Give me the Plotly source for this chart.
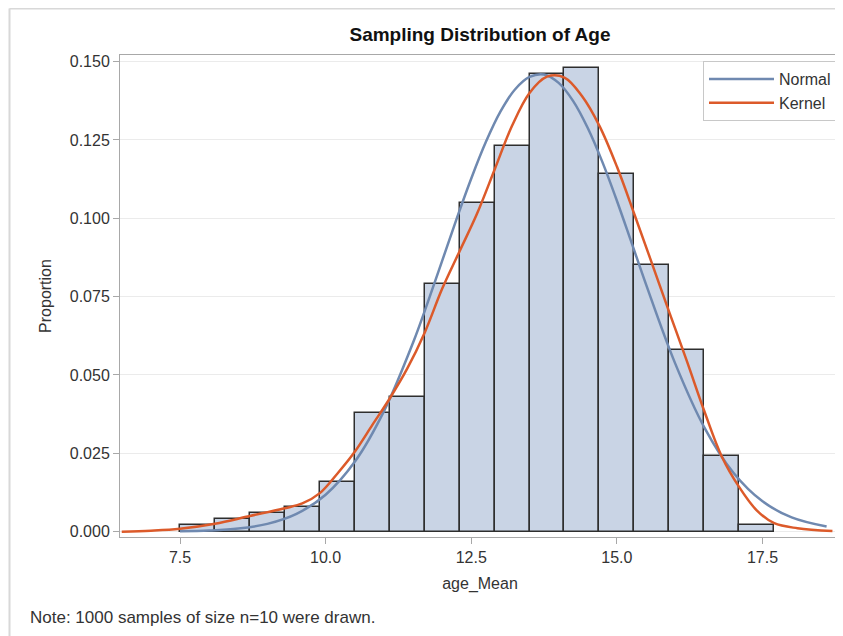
import plotly.graph_objects as go

# Histogram bins (midpoints) and proportions
bin_mid = [7.8, 8.4, 9.0, 9.6, 10.2, 10.8, 11.4, 12.0, 12.6, 13.2, 13.8, 14.4, 15.0, 15.6, 16.2, 16.8, 17.4]
proportion = [0.002, 0.004, 0.006, 0.008, 0.016, 0.038, 0.043, 0.079, 0.105, 0.123, 0.146, 0.148, 0.114, 0.085, 0.058, 0.024, 0.002]
bin_width = 0.6

# Normal density curve
normal_x = [7.5, 8.0, 8.5, 9.0, 9.5, 10.0, 10.5, 11.0, 11.5, 11.75, 12.0, 12.25, 12.5, 12.75, 13.0, 13.25, 13.5, 13.75,
            14.0, 14.25, 14.5, 14.75, 15.0, 15.25, 15.5, 16.0, 16.5, 17.0, 17.5, 18.0, 18.6]
normal_y = [0.00012, 0.00036, 0.00099, 0.00249, 0.00568, 0.0118, 0.0223, 0.0384, 0.0603, 0.0730, 0.0864, 0.0999, 0.1127, 0.1243, 0.1340, 0.1411, 0.1451, 0.1459,
            0.1432, 0.1374, 0.1288, 0.1180, 0.1056, 0.0923, 0.0789, 0.0537, 0.0333, 0.0188, 0.00968, 0.00454, 0.00162]

# Kernel density curve
kernel_x = [6.5, 7.0, 7.5, 8.1, 8.7, 9.3, 9.6, 9.9, 10.2, 10.5, 10.8, 11.1, 11.4, 11.7, 12.0, 12.3, 12.6, 12.9, 13.2, 13.5, 13.8, 14.1, 14.4, 14.7, 15.0, 15.3, 15.6, 15.9, 16.2, 16.5, 16.8, 17.1, 17.4, 17.7, 18.1, 18.7]
kernel_y = [0.0, 0.0003, 0.0009, 0.0025, 0.005, 0.0075, 0.009, 0.0123, 0.0185, 0.0255, 0.034, 0.0425, 0.052, 0.0635, 0.0775, 0.0895, 0.1015, 0.1155, 0.1295, 0.140, 0.1452, 0.1449, 0.139, 0.1295, 0.1165, 0.1013, 0.0857, 0.070, 0.0545, 0.0385, 0.024, 0.0142, 0.0068, 0.0027, 0.0011, 0.0002]

x_ticks = [7.5, 10.0, 12.5, 15.0, 17.5]
y_ticks = [0.000, 0.025, 0.050, 0.075, 0.100, 0.125, 0.150]

FONT = "Liberation Sans, Arial, sans-serif"

# figure sits at an 8px body offset inside the page
W, H = 835, 628
L, R, T, B = 112, 3, 47, 99
PW, PH = W - L - R, H - T - B


def px(fx):
    return (fx - L) / PW


def py(fy):
    return (H - B - fy) / PH


fig = go.Figure()
fig.add_trace(go.Bar(
    x=bin_mid, y=proportion, width=bin_width,
    marker=dict(color="#c9d4e5", line=dict(color="#2e2e2e", width=1.5)),
    showlegend=False, hoverinfo="x+y",
))
fig.add_trace(go.Scatter(
    x=normal_x, y=normal_y, mode="lines", name="Normal",
    line=dict(color="#6f89b0", width=2.5, shape="spline", smoothing=1.0),
))
fig.add_trace(go.Scatter(
    x=kernel_x, y=kernel_y, mode="lines", name="Kernel",
    line=dict(color="#dc5a2a", width=2.5, shape="spline", smoothing=1.0),
))

fig.update_layout(
    width=W, height=H,
    margin=dict(l=L, r=R, t=T, b=B),
    paper_bgcolor="white", plot_bgcolor="white",
    font=dict(family=FONT, size=16, color="#333333"),
    title=dict(text="<b>Sampling Distribution of Age</b>", x=0.5, xref="paper", xanchor="center",
               y=1 - 26 / H, yref="container", yanchor="middle",
               font=dict(family=FONT, size=19, color="#111111")),
    bargap=0,
    legend=dict(x=px(829), y=py(53), xanchor="right", yanchor="top",
                bgcolor="white", bordercolor="#c8c8c8", borderwidth=1,
                font=dict(family=FONT, size=16, color="#333333"),
                itemwidth=65, tracegroupgap=0),
    xaxis=dict(range=[6.47, 18.83], tickvals=x_ticks, ticktext=[f"{v:.1f}" for v in x_ticks],
               showgrid=False, zeroline=False,
               showline=True, mirror=True, linecolor="#a8a8a8", linewidth=1,
               ticks="outside", ticklen=6, tickcolor="#a8a8a8",
               tickfont=dict(size=16, color="#333333"),
               title=dict(text="age_Mean", standoff=12, font=dict(size=16, color="#333333"))),
    yaxis=dict(range=[-0.0017, 0.1521], tickvals=y_ticks, ticktext=[f"{v:.3f}" for v in y_ticks],
               showgrid=True, gridcolor="#ebebeb", gridwidth=1, zeroline=False,
               showline=True, mirror=True, linecolor="#a8a8a8", linewidth=1,
               ticks="outside", ticklen=6, tickcolor="#a8a8a8",
               tickfont=dict(size=16, color="#333333"),
               title=dict(text="Proportion", standoff=14, font=dict(size=16, color="#333333"))),
    shapes=[
        dict(type="line", xref="paper", yref="paper", x0=px(1.5), x1=px(W),
             y0=py(0.5), y1=py(0.5), line=dict(color="#d8d8d8", width=2)),
        dict(type="line", xref="paper", yref="paper", x0=px(1.5), x1=px(1.5),
             y0=py(0.5), y1=py(H), line=dict(color="#d8d8d8", width=2)),
    ],
    annotations=[
        dict(text="Note: 1000 samples of size n=10 were drawn.", xref="paper", yref="paper",
             x=px(20), y=py(609), xanchor="left", yanchor="middle",
             showarrow=False, font=dict(family=FONT, size=17, color="#333333")),
    ],
)

fig.write_html("out.html")
